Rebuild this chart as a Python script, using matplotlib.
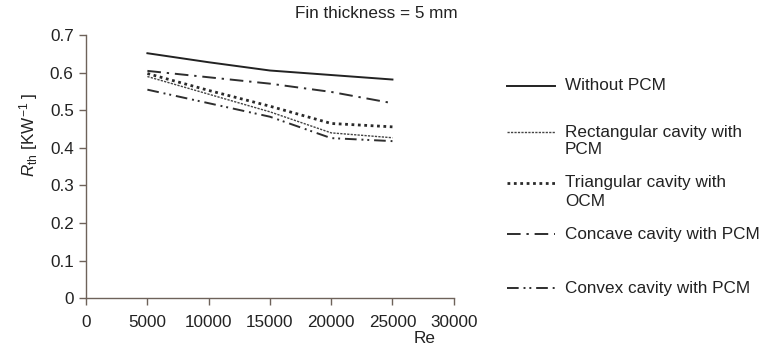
import matplotlib
matplotlib.use("Agg")
import matplotlib.pyplot as plt
from matplotlib.lines import Line2D

re_vals = [5000, 10000, 15000, 20000, 25000]
without_pcm = [0.652, 0.628, 0.606, 0.594, 0.582]
rectangular = [0.590, 0.543, 0.496, 0.440, 0.427]
triangular = [0.598, 0.553, 0.511, 0.465, 0.456]
concave = [0.605, 0.588, 0.571, 0.549, 0.519]
convex = [0.555, 0.519, 0.483, 0.426, 0.418]

labels = [["Without PCM"], ["Rectangular cavity with", "PCM"], ["Triangular cavity with", "OCM"],
          ["Concave cavity with PCM"], ["Convex cavity with PCM"]]
series = [without_pcm, rectangular, triangular, concave, convex]

plt.rcParams['font.family'] = ['Liberation Sans', 'DejaVu Sans']
plt.rcParams['mathtext.fontset'] = 'custom'
plt.rcParams['mathtext.rm'] = 'Liberation Sans'
plt.rcParams['mathtext.it'] = 'Liberation Sans:italic'

FS = 12.3
TC = '#222222'

fig = plt.figure(figsize=(7.69, 3.52), dpi=100)
ax = fig.add_axes([0.112, 0.153, 0.478, 0.747])

col = '#2e2e2e'
styles = [
    dict(linestyle='-', linewidth=1.4, color='#222222'),
    dict(linestyle=(0, (1.6, 0.9)), linewidth=1.0, color='#444444'),
    dict(linestyle=(0, (1.0, 1.3)), linewidth=2.0, color='#2a2a2a'),
    dict(linestyle=(0, (7, 3, 1.2, 3)), linewidth=1.4, color=col),
    dict(linestyle=(0, (6, 2.5, 1, 2, 1, 2.5)), linewidth=1.4, color=col),
]

for ys, st in zip(series, styles):
    ax.plot(re_vals, ys, **st)

ax.set_xlim(0, 30000)
ax.set_ylim(0, 0.7)
ax.set_xticks([0, 5000, 10000, 15000, 20000, 25000, 30000])
ax.set_yticks([0, 0.1, 0.2, 0.3, 0.4, 0.5, 0.6, 0.7])
ax.set_yticklabels(['0', '0.1', '0.2', '0.3', '0.4', '0.5', '0.6', '0.7'])
spcol = '#6e625a'
for s in ['top', 'right']:
    ax.spines[s].set_visible(False)
for s in ['left', 'bottom']:
    ax.spines[s].set_color(spcol)
    ax.spines[s].set_linewidth(1.0)
ax.tick_params(axis='both', colors=spcol, labelcolor=TC, labelsize=FS, length=5, width=1.0)
ax.tick_params(axis='x', pad=7)
ax.tick_params(axis='y', pad=4)

ax.set_xlabel('Re', fontsize=FS, color=TC)
ax.xaxis.set_label_coords(0.92, -0.125)
ax.set_ylabel(r'$R_{\mathrm{th}}$ [KW$^{-1}$ ]', fontsize=FS, color=TC)
ax.yaxis.set_label_coords(-0.125, 0.62)

fig.text(376 / 769, 1 - 14 / 352, 'Fin thickness = 5 mm', ha='center', va='center',
         fontsize=FS, color=TC)

# manual legend
leg_y = [86, 132, 183, 234, 288]
for lines, st, yy in zip(labels, styles, leg_y):
    yf = 1 - yy / 352
    fig.add_artist(Line2D([507 / 769, 555 / 769], [yf, yf], transform=fig.transFigure, **st))
    for i, ln in enumerate(lines):
        fig.text(565 / 769, 1 - (yy + 18 * i) / 352, ln, ha='left', va='center',
                 fontsize=FS, color=TC)

fig.savefig('out.png', dpi=100)
